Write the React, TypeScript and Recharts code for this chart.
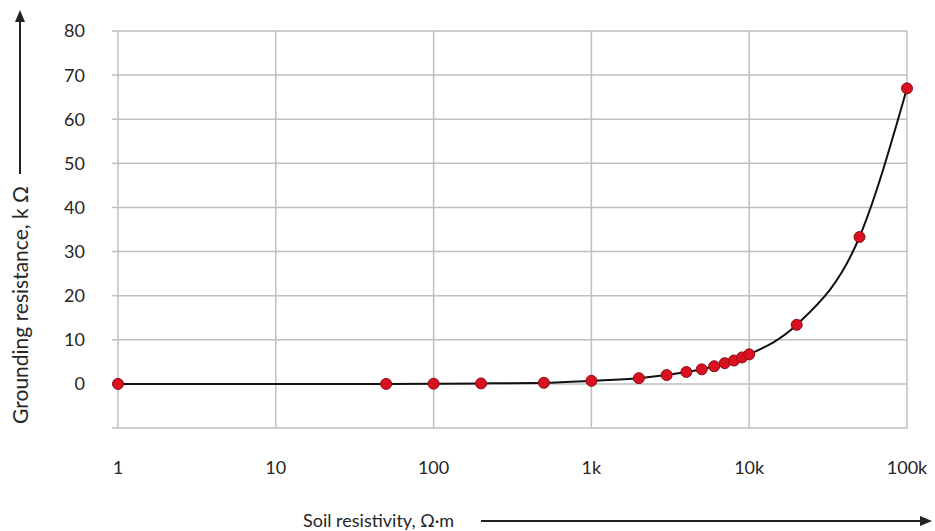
import {
  CartesianGrid,
  Line,
  LineChart,
  XAxis,
  YAxis,
} from 'recharts';

const resistivity = [
  1, 50, 100, 200, 500, 1000, 2000, 3000, 4000, 5000, 6000, 7000, 8000, 9000,
  10000, 20000, 50000, 100000,
];
const groundingKOhm = [
  0, 0, 0.05, 0.1, 0.25, 0.7, 1.3, 2, 2.7, 3.3, 4, 4.7, 5.3, 6, 6.7, 13.4,
  33.3, 67,
];
const xTicks = [1, 10, 100, 1000, 10000, 100000];
const yTicks = [-10, 0, 10, 20, 30, 40, 50, 60, 70, 80];

const data = resistivity.map((x, i) => ({ x, y: groundingKOhm[i] }));

const FONT = 'Lato, "Open Sans", sans-serif';
const TEXT = '#262626';
const GRID = '#bfbfbf';

const formatX = (v: number) => (v >= 1000 ? `${v / 1000}k` : `${v}`);
const formatY = (v: number) => (v < 0 ? '' : `${v}`);

function RedDot(props: any) {
  const { cx, cy } = props;
  if (cx == null || cy == null) return null;
  return (
    <circle cx={cx} cy={cy} r={5.5} fill="#d8101f" stroke="#8c0c16" strokeWidth={1} />
  );
}

// axis title with its arrow, drawn next to the y axis
function YTitle() {
  return (
    <g>
      <line x1={20} y1={174} x2={20} y2={20} stroke="#222" strokeWidth={2} />
      <polygon points="15,22 25,22 20,10" fill="#222" />
      <text
        x={0}
        y={0}
        transform="translate(28, 305) rotate(-90)"
        textAnchor="middle"
        fontFamily={FONT}
        fontSize={21}
        fill={TEXT}
      >
        Grounding resistance, k Ω
      </text>
    </g>
  );
}

function XTitle() {
  return (
    <g>
      <text x={303} y={527} fontFamily={FONT} fontSize={18} fill={TEXT}>
        Soil resistivity, Ω·m
      </text>
      <line x1={481} y1={521} x2={922} y2={521} stroke="#222" strokeWidth={2} />
      <polygon points="920,516 920,526 932,521" fill="#222" />
    </g>
  );
}

export default function App() {
  return (
    <div style={{ position: 'absolute', left: 0, top: 0, width: 935, height: 531, background: '#fff' }}>
      <LineChart
        width={935}
        height={531}
        data={data}
        margin={{ top: 31, right: 28, bottom: 0, left: 0 }}
      >
        <CartesianGrid stroke={GRID} strokeWidth={1.5} />
        <XAxis
          dataKey="x"
          type="number"
          scale="log"
          domain={[1, 100000]}
          ticks={xTicks}
          tickFormatter={formatX}
          axisLine={false}
          tickLine={false}
          tickSize={6}
          tickMargin={27}
          height={103}
          tick={{ fontFamily: FONT, fontSize: 18, fill: TEXT }}
          label={<XTitle />}
        />
        <YAxis
          type="number"
          domain={[-10, 80]}
          ticks={yTicks}
          tickFormatter={formatY}
          axisLine={false}
          tickLine={{ stroke: GRID, strokeWidth: 1.5 }}
          tickSize={6}
          tickMargin={27}
          width={118}
          interval={0}
          tick={{ fontFamily: FONT, fontSize: 18, fill: TEXT }}
          label={<YTitle />}
        />
        <Line
          dataKey="y"
          type="monotone"
          stroke="#111"
          strokeWidth={2}
          dot={<RedDot />}
          activeDot={false}
          isAnimationActive={false}
        />
      </LineChart>
    </div>
  );
}
